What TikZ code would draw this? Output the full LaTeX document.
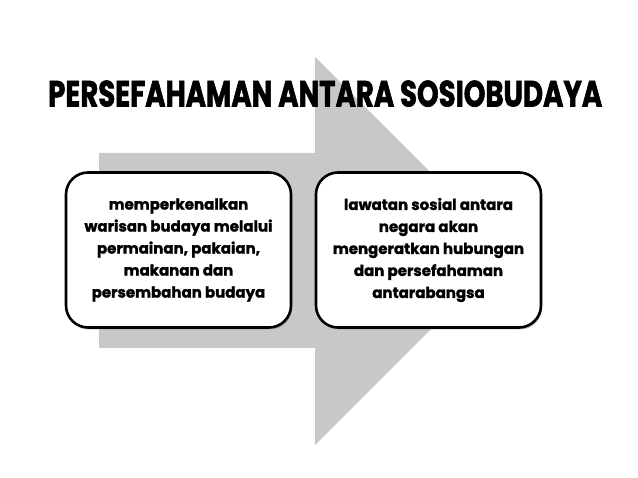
\documentclass[tikz,border=0pt]{standalone}
\usepackage{fontspec}
\setmainfont{Poppins}
\usetikzlibrary{shadows}
\definecolor{arrowgray}{HTML}{C8C8C8}
\begin{document}
\begin{tikzpicture}[x=1pt,y=-1pt,
  textbox/.style={draw=black, line width=2.6pt, fill=white, rounded corners=22pt,
    minimum width=225pt, minimum height=155pt, inner sep=0pt, align=center,
    font=\bfseries\addfontfeatures{FakeBold=1.5}\fontsize{15}{22}\selectfont,
    drop shadow={shadow xshift=1.2pt, shadow yshift=-2pt, fill=black!50}},
  titletext/.style={anchor=south west, inner sep=0pt, font=\bfseries\addfontfeatures{FakeBold=2}}]
\useasboundingbox (0,0) rectangle (638,478);
\fill[white] (0,0) rectangle (638,478);
\fill[arrowgray] (99,153) -- (315,153) -- (315,57) -- (509,251) -- (315,445) -- (315,348) -- (99,348) -- cycle;
\node[titletext] (title) at (48,107) {\resizebox{554pt}{26pt}{PERSEFAHAMAN ANTARA SOSIOBUDAYA}};
\node[textbox] (left) at (178.5,250) {memperkenalkan\\warisan budaya melalui\\permainan, pakaian,\\makanan dan\\persembahan budaya};
\node[textbox] (right) at (428.5,250) {lawatan sosial antara\\negara akan\\mengeratkan hubungan\\dan persefahaman\\antarabangsa};
\end{tikzpicture}
\end{document}
